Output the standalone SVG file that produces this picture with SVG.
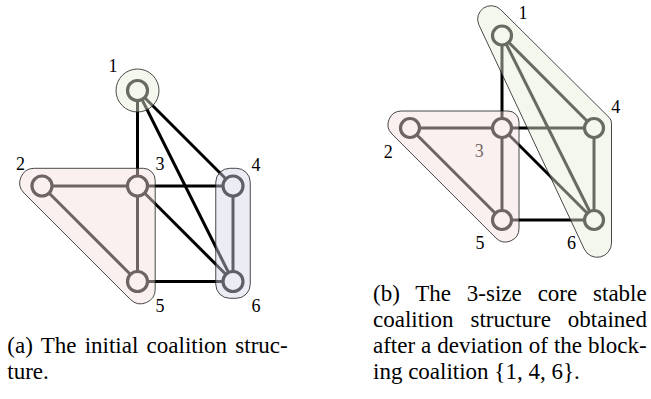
<svg xmlns="http://www.w3.org/2000/svg" width="651" height="399" viewBox="0 0 651 399">
<style>
.e{stroke:#000;stroke-width:3;fill:none}
.n{fill:#fff;stroke:#000;stroke-width:3.2}
.lb{font-size:18px;fill:#000;text-anchor:middle}
.cap{font-size:23px;fill:#000}
.reg{stroke:#1a1a1a;stroke-width:0.8;fill-opacity:0.45}
.pink{fill:#f6dede}
.green{fill:#e7edd9}
.blue{fill:#d5d7e7}
</style>
<rect width="651" height="399" fill="#fff"/>

<g font-family="Liberation Serif, Times New Roman, serif">
<!-- (a) initial coalition structure -->
<g id="edges-a">
<line class="e" x1="137.5" y1="90.5" x2="137.5" y2="186"/>
<line class="e" x1="137.5" y1="90.5" x2="233" y2="186"/>
<line class="e" x1="137.5" y1="90.5" x2="233" y2="281.5"/>
<line class="e" x1="42" y1="186" x2="137.5" y2="186"/>
<line class="e" x1="42" y1="186" x2="137.5" y2="281.5"/>
<line class="e" x1="137.5" y1="186" x2="233" y2="186"/>
<line class="e" x1="137.5" y1="186" x2="137.5" y2="281.5"/>
<line class="e" x1="137.5" y1="186" x2="233" y2="281.5"/>
<line class="e" x1="233" y1="186" x2="233" y2="281.5"/>
<line class="e" x1="137.5" y1="281.5" x2="233" y2="281.5"/>
</g>
<g id="a-node1"><circle class="n" cx="137.5" cy="90.5" r="10"/><text class="lb" x="113" y="72">1</text></g>
<g id="a-node2"><circle class="n" cx="42" cy="186" r="10"/><text class="lb" x="20.5" y="170">2</text></g>
<g id="a-node3"><circle class="n" cx="137.5" cy="186" r="10"/><text class="lb" x="160" y="170">3</text></g>
<g id="a-node4"><circle class="n" cx="233" cy="186" r="10"/><text class="lb" x="256" y="171">4</text></g>
<g id="a-node5"><circle class="n" cx="137.5" cy="281.5" r="10"/><text class="lb" x="160" y="312">5</text></g>
<g id="a-node6"><circle class="n" cx="233" cy="281.5" r="10"/><text class="lb" x="256" y="312">6</text></g>
<g id="a-coalition-1">
<circle class="reg green" cx="137.5" cy="90.5" r="21.5"/>
</g>
<g id="a-coalition-235">
<path class="reg pink" d="M34.27 168.3 H143.2 A12 12 0 0 1 155.2 180.3 V289.23 A14.5 14.5 0 0 1 130.45 299.48 L24.02 193.05 A14.5 14.5 0 0 1 34.27 168.3 Z"/>
</g>
<g id="a-coalition-46">
<rect class="reg blue" x="215.75" y="168.3" width="34.5" height="130" rx="14" ry="14"/>
</g>

<!-- (b) core stable coalition structure -->
<g id="edges-b">
<line class="e" x1="502" y1="35.5" x2="502" y2="128"/>
<line class="e" x1="502" y1="35.5" x2="594" y2="128"/>
<line class="e" x1="502" y1="35.5" x2="594" y2="220"/>
<line class="e" x1="410" y1="128" x2="502" y2="128"/>
<line class="e" x1="410" y1="128" x2="502" y2="220"/>
<line class="e" x1="502" y1="128" x2="594" y2="128"/>
<line class="e" x1="502" y1="128" x2="502" y2="220"/>
<line class="e" x1="502" y1="128" x2="594" y2="220"/>
<line class="e" x1="594" y1="128" x2="594" y2="220"/>
<line class="e" x1="502" y1="220" x2="594" y2="220"/>
</g>
<g id="b-node1"><circle class="n" cx="502" cy="35.5" r="9.5"/><text class="lb" x="523" y="19">1</text></g>
<g id="b-node2"><circle class="n" cx="410" cy="128" r="9.5"/><text class="lb" x="388.3" y="157.5">2</text></g>
<g id="b-node3"><circle class="n" cx="502" cy="128" r="9.5"/><text class="lb" x="479.3" y="157">3</text></g>
<g id="b-node4"><circle class="n" cx="594" cy="128" r="9.5"/><text class="lb" x="615.7" y="112.5">4</text></g>
<g id="b-node5"><circle class="n" cx="502" cy="220" r="9.5"/><text class="lb" x="480" y="248.5">5</text></g>
<g id="b-node6"><circle class="n" cx="594" cy="220" r="9.5"/><text class="lb" x="571.5" y="249">6</text></g>
<g id="b-coalition-235">
<path class="reg pink" d="M401.55 111 H508 A11 11 0 0 1 519 122 V228.45 A13.5 13.5 0 0 1 495.95 238 L392 134.05 A13.5 13.5 0 0 1 401.55 111 Z"/>
</g>
<g id="b-coalition-146">
<path class="reg green" d="M478.8 24.7 A13.5 13.5 0 0 1 500.5 9.5 L609.2 117.5 A8 8 0 0 1 611.5 123.1 V243 A14.3 14.3 0 0 1 584.25 249.06 Z"/>
</g>

<!-- captions -->
<g id="caption-a">
<text class="cap" x="7.3" y="353" word-spacing="2.5">(a) The initial coalition struc-</text>
<text class="cap" x="7.3" y="379">ture.</text>
</g>
<g id="caption-b">
<text class="cap" x="373" y="301" word-spacing="10.1">(b) The 3-size core stable</text>
<text class="cap" x="373" y="327" word-spacing="11.2">coalition structure obtained</text>
<text class="cap" x="373" y="353" word-spacing="0.2">after a deviation of the block-</text>
<text class="cap" x="373" y="379">ing coalition {1, 4, 6}.</text>
</g>
</g>
</svg>
